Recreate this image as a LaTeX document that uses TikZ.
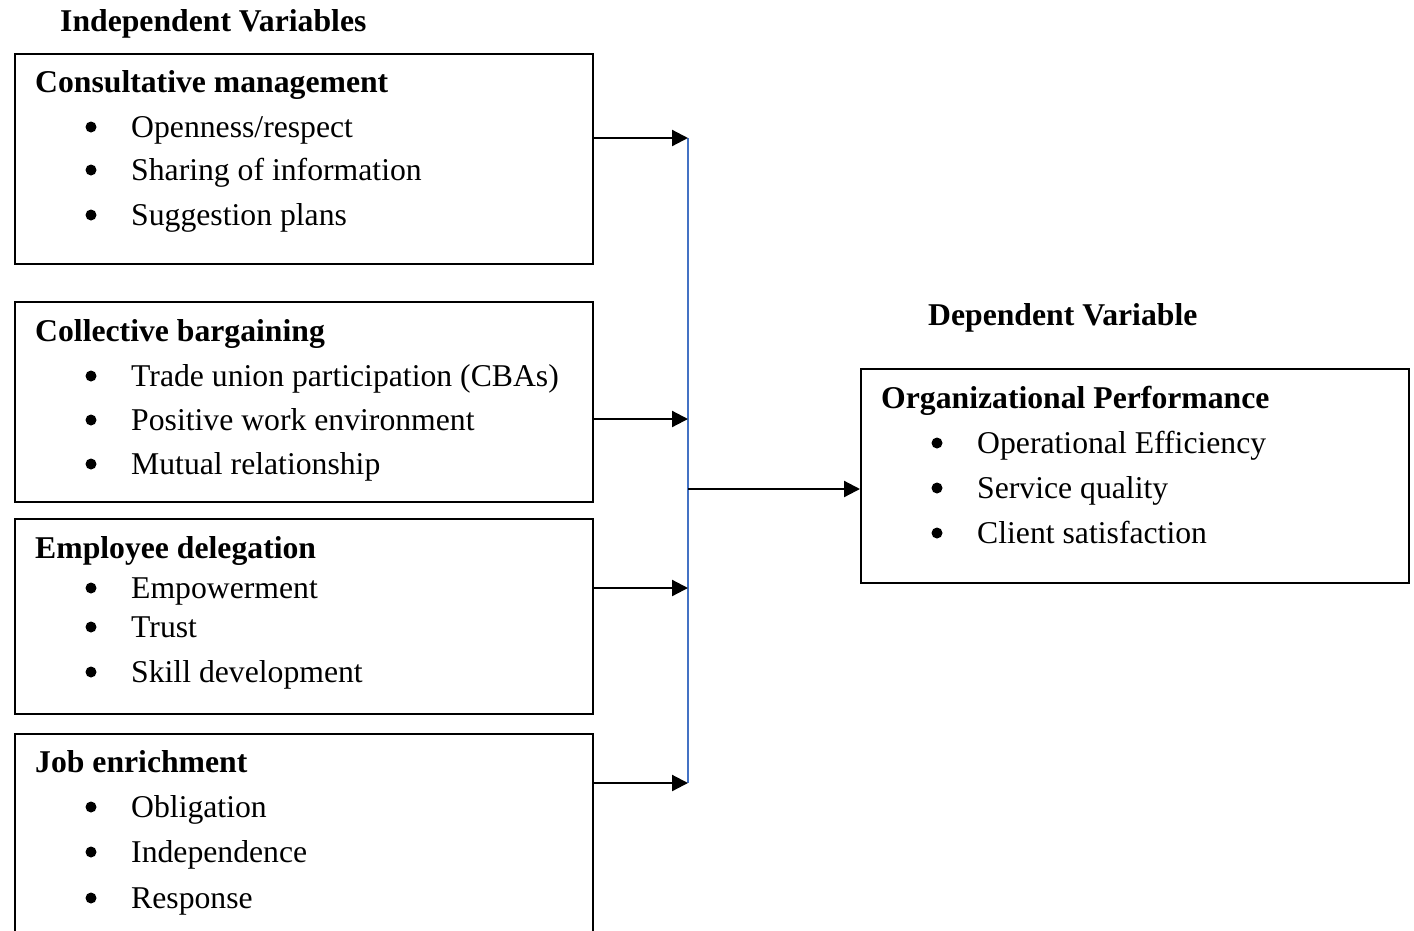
\documentclass[tikz,border=0pt]{standalone}
\usepackage{fontspec}
\setmainfont{Liberation Serif}
\usetikzlibrary{arrows.meta}
\definecolor{vblue}{HTML}{4472C4}
\begin{document}
\begin{tikzpicture}[x=1pt,y=-1pt,
  box/.style={draw, line width=1.6pt, anchor=north west, inner sep=0pt},
  hd/.style={anchor=base west, inner sep=0pt, font=\fontsize{31.7}{38}\selectfont\bfseries},
  itm/.style={anchor=base west, inner sep=0pt, font=\fontsize{31.7}{38}\selectfont},
  dot/.style={circle, fill, inner sep=0pt, minimum size=11pt},
  arr/.style={line width=2.2pt, -{Triangle[length=16pt,width=16pt]}},
  vline/.style={draw=vblue, line width=1.5pt}]
\useasboundingbox (0,0) rectangle (1414,930);
\clip (0,0) rectangle (1414,930);
% titles
\node[hd] (tind) at (60,31) {Independent Variables};
\node[hd] (tdep) at (928,325) {Dependent Variable};
% boxes
\node[box, minimum width=578pt, minimum height=210pt] (b1) at (14,53) {};
\node[box, minimum width=578pt, minimum height=200pt] (b2) at (14,301) {};
\node[box, minimum width=578pt, minimum height=195pt] (b3) at (14,518) {};
\node[box, minimum width=578pt, minimum height=220pt] (b4) at (14,733) {};
\node[box, minimum width=548pt, minimum height=214pt] (b5) at (860,368) {};
% box 1
\node[hd] (h1) at (35,92) {Consultative management};
\node[dot] (b1a) at (91,127) {}; \node[itm] (i1a) at (131,137) {Openness/respect};
\node[dot] (b1b) at (91,170) {}; \node[itm] (i1b) at (131,180) {Sharing of information};
\node[dot] (b1c) at (91,215) {}; \node[itm] (i1c) at (131,225) {Suggestion plans};
% box 2
\node[hd] (h2) at (35,341) {Collective bargaining};
\node[dot] (b2a) at (91,376) {}; \node[itm] (i2a) at (131,386) {Trade union participation (CBAs)};
\node[dot] (b2b) at (91,420) {}; \node[itm] (i2b) at (131,430) {Positive work environment};
\node[dot] (b2c) at (91,464) {}; \node[itm] (i2c) at (131,474) {Mutual relationship};
% box 3
\node[hd] (h3) at (35,558) {Employee delegation};
\node[dot] (b3a) at (91,588) {}; \node[itm] (i3a) at (131,598) {Empowerment};
\node[dot] (b3b) at (91,627) {}; \node[itm] (i3b) at (131,637) {Trust};
\node[dot] (b3c) at (91,672) {}; \node[itm] (i3c) at (131,682) {Skill development};
% box 4
\node[hd] (h4) at (35,772) {Job enrichment};
\node[dot] (b4a) at (91,807) {}; \node[itm] (i4a) at (131,817) {Obligation};
\node[dot] (b4b) at (91,852) {}; \node[itm] (i4b) at (131,862) {Independence};
\node[dot] (b4c) at (91,898) {}; \node[itm] (i4c) at (131,908) {Response};
% right box
\node[hd] (h5) at (881,408) {Organizational Performance};
\node[dot] (b5a) at (937,443) {}; \node[itm] (i5a) at (977,453) {Operational Efficiency};
\node[dot] (b5b) at (937,488) {}; \node[itm] (i5b) at (977,498) {Service quality};
\node[dot] (b5c) at (937,533) {}; \node[itm] (i5c) at (977,543) {Client satisfaction};
% connectors
\coordinate (j1) at (688,138);
\coordinate (j2) at (688,419);
\coordinate (j3) at (688,588);
\coordinate (j4) at (688,783);
\coordinate (jm) at (688,489);
\draw[vline] (j1) -- (j4);
\draw[arr] (b1.east |- j1) -- (j1);
\draw[arr] (b2.east |- j2) -- (j2);
\draw[arr] (b3.east |- j3) -- (j3);
\draw[arr] (b4.east |- j4) -- (j4);
\draw[arr] (jm) -- (b5.west |- jm);
\end{tikzpicture}
\end{document}
